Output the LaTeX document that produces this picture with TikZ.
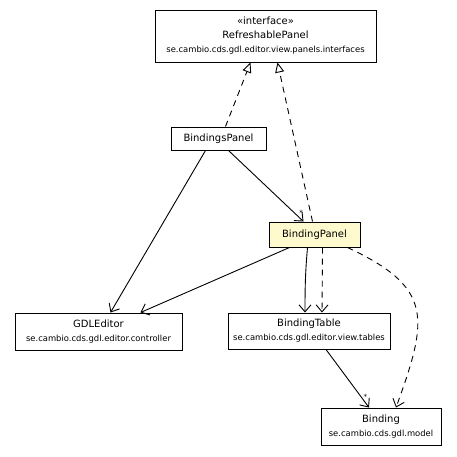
\documentclass[tikz,border=0pt]{standalone}
\usepackage{fontspec}
\setmainfont{DejaVu Sans}
\usetikzlibrary{positioning}
\usetikzlibrary{arrows.meta}
\definecolor{lemon}{RGB}{255,250,205}
\newcommand{\pkg}[1]{{\fontsize{8.4}{14}\selectfont #1}}
\begin{document}
\begin{tikzpicture}[
    x=1pt, y=-1pt,
    cls/.style={draw,line width=1pt,fill=white,inner sep=0pt,align=center,minimum height=#1,font=\fontsize{10}{14}\selectfont},
    cls/.default=23pt,
    dep/.style={-{Straight Barb[length=7pt,width=12pt]},line width=0.9pt},
    dashes/.style={dash pattern=on 6pt off 5pt},
    real/.style={dashes,line width=0.9pt,-{Triangle[open,length=10pt,width=9pt]}},
    mult/.style={inner sep=0pt,font=\fontsize{7}{7}\selectfont}
    ]
    \useasboundingbox[fill=white] (0,0) rectangle (457,456);

    \node[cls=52pt, minimum width=221pt] (refresh) at (265.5,36) {«interface»\\RefreshablePanel\\\pkg{se.cambio.cds.gdl.editor.view.panels.interfaces}};
    \node[cls, minimum width=95pt] (bindings) at (218.5,138.5) {BindingsPanel};
    \node[cls=25pt, minimum width=91pt, fill=lemon] (bpanel) at (314.5,234.5) {BindingPanel};

    \node[cls=37pt, minimum width=167pt] (gdl) at (98.5,331.5) {GDLEditor\\\pkg{se.cambio.cds.gdl.editor.controller}};
    \node[cls=36pt, minimum width=162pt] (btable) at (309,331) {BindingTable\\\pkg{se.cambio.cds.gdl.editor.view.tables}};
    \node[cls=37pt, minimum width=120pt] (binding) at (381,426.5) {Binding\\\pkg{se.cambio.cds.gdl.model}};

    \path ([xshift=7pt]bindings.north) edge[real] ([xshift=-15pt]refresh.south)
    ([xshift=-2pt]bpanel.north) edge[real] ([xshift=12pt]refresh.south)
    ([xshift=10pt]bindings.south) edge[dep] node[mult, pos=0.93, above right=1pt] (m1) {*} ([xshift=-11pt]bpanel.north)
    ([xshift=-13pt]bindings.south) edge[dep] ([xshift=12pt]gdl.north)
    ([xshift=-25pt]bpanel.south) edge[dep] ([xshift=42pt]gdl.north)
    ([xshift=-7pt]bpanel.south) edge[dep, out=-95, in=90] ([xshift=-4pt]btable.north)
    ([xshift=8pt]bpanel.south) edge[dep, dashes] ([xshift=13pt]btable.north)
    ([xshift=33pt]bpanel.south) edge[dep, dashes, out=-25, in=70, looseness=1.45] ([xshift=15pt]binding.north)
    ([xshift=17pt]btable.south) edge[dep] node[mult, pos=0.82, right=2pt] (m2) {*} ([xshift=-12pt]binding.north)
    ;

\end{tikzpicture}
\end{document}
